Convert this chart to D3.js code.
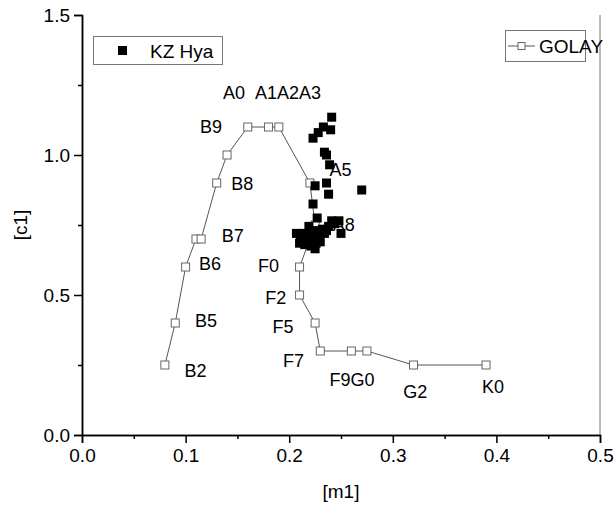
<!DOCTYPE html>
<html>
<head>
<meta charset="utf-8">
<script src="https://cdn.jsdelivr.net/npm/d3@7"></script>
<style>
    body { margin: 0; background: #fff; }
    text { font-family: "Liberation Sans", Arial, sans-serif; fill: #000; }
</style>
</head>
<body>
<svg width="614" height="514"></svg>
<script>
// KZ Hya observed points [m1, c1]
const kzM1 = [0.241, 0.233, 0.240, 0.228, 0.223, 0.234, 0.236, 0.239, 0.225, 0.236,
    0.238, 0.270, 0.223, 0.227, 0.241, 0.248, 0.250, 0.238, 0.232, 0.226,
    0.220, 0.213, 0.207, 0.211, 0.216, 0.222, 0.228, 0.234, 0.215, 0.221,
    0.226, 0.230, 0.219, 0.224, 0.218, 0.236, 0.244, 0.210, 0.225];
const kzC1 = [1.135, 1.100, 1.090, 1.080, 1.060, 1.010, 1.000, 0.965, 0.890, 0.900,
    0.860, 0.875, 0.825, 0.775, 0.765, 0.765, 0.720, 0.745, 0.735, 0.730,
    0.725, 0.720, 0.720, 0.700, 0.695, 0.700, 0.710, 0.720, 0.680, 0.675,
    0.685, 0.690, 0.745, 0.710, 0.710, 0.730, 0.755, 0.685, 0.665];

// Golay standard sequence
const golayM1 = [0.08, 0.09, 0.10, 0.11, 0.115, 0.13, 0.14, 0.16, 0.18, 0.19,
    0.22, 0.225, 0.21, 0.21, 0.225, 0.23, 0.26, 0.275, 0.32, 0.39];
const golayC1 = [0.25, 0.40, 0.60, 0.70, 0.70, 0.90, 1.00, 1.10, 1.10, 1.10,
    0.90, 0.75, 0.60, 0.50, 0.40, 0.30, 0.30, 0.30, 0.25, 0.25];

// spectral type labels (anchor in data units)
const typeNames = ["A0", "A1A2A3", "B9", "B8", "B7", "B6", "B5", "B2", "F0", "F2",
    "F5", "F7", "F9G0", "G2", "K0", "A5", "A8"];
const typeM1 = [0.136, 0.167, 0.114, 0.144, 0.135, 0.113, 0.109, 0.099, 0.170, 0.177,
    0.184, 0.194, 0.239, 0.310, 0.386, 0.239, 0.242];
const typeC1 = [1.20, 1.20, 1.079, 0.875, 0.69, 0.59, 0.386, 0.207, 0.582, 0.468,
    0.364, 0.243, 0.175, 0.132, 0.15, 0.925, 0.729];

const xTicks = [0, 0.1, 0.2, 0.3, 0.4, 0.5];
const yTicks = [0, 0.5, 1.0, 1.5];

var svg = d3.select("svg"),
    plotL = 82, plotR = 600, plotT = 15, plotB = 435;

var xScale = d3.scaleLinear().domain([0, 0.5]).range([plotL, plotR]),
    yScale = d3.scaleLinear().domain([0, 1.5]).range([plotB, plotT]);

// right frame line
svg.append("line")
    .attr("x1", plotR).attr("x2", plotR)
    .attr("y1", plotT).attr("y2", plotB)
    .attr("stroke", "#777").attr("stroke-width", 1);

// axes
svg.append("g")
    .attr("transform", "translate(0," + plotB + ")")
    .call(d3.axisBottom(xScale).tickValues(xTicks).tickFormat(d3.format(".1f"))
        .tickSize(8).tickPadding(6));
svg.append("g")
    .attr("transform", "translate(0," + plotB + ")")
    .call(d3.axisBottom(xScale).tickValues(d3.range(0.05, 0.5, 0.1)).tickFormat("")
        .tickSize(4).tickSizeOuter(0));

svg.append("g")
    .attr("transform", "translate(" + plotL + ",0)")
    .call(d3.axisLeft(yScale).tickValues(yTicks).tickFormat(d3.format(".1f"))
        .tickSize(8).tickPadding(4));
svg.append("g")
    .attr("transform", "translate(" + plotL + ",0)")
    .call(d3.axisLeft(yScale).tickValues([0.25, 0.75, 1.25]).tickFormat("")
        .tickSize(4).tickSizeOuter(0));

svg.selectAll(".domain").attr("stroke", "#000").attr("stroke-width", 1.5);
svg.selectAll(".tick line").attr("stroke", "#000").attr("stroke-width", 1.5);
svg.selectAll(".tick text")
    .attr("font-family", "Liberation Sans, Arial, sans-serif")
    .attr("font-size", "19px").attr("fill", "#000");

// axis titles
svg.append("text")
    .attr("x", (plotL + plotR) / 2).attr("y", 498)
    .attr("text-anchor", "middle").attr("font-size", "19px")
    .text("[m1]");
svg.append("text")
    .attr("transform", "translate(27," + (plotT + plotB) / 2 + ") rotate(-90)")
    .attr("text-anchor", "middle").attr("font-size", "19px")
    .text("[c1]");

// spectral type labels
svg.selectAll(".lab")
    .data(typeNames)
    .enter().append("text")
    .attr("class", "lab")
    .attr("x", function (d, i) { return xScale(typeM1[i]); })
    .attr("y", function (d, i) { return yScale(typeC1[i]); })
    .attr("font-size", "18px")
    .text(function (d) { return d; });

// golay line + open squares
var line = d3.line()
    .x(function (d, i) { return xScale(golayM1[i]); })
    .y(function (d, i) { return yScale(golayC1[i]); });
svg.append("path")
    .datum(golayM1)
    .attr("d", line)
    .attr("fill", "none").attr("stroke", "#555").attr("stroke-width", 1);

svg.selectAll(".golay")
    .data(golayM1)
    .enter().append("rect")
    .attr("class", "golay")
    .attr("x", function (d) { return xScale(d) - 4; })
    .attr("y", function (d, i) { return yScale(golayC1[i]) - 4; })
    .attr("width", 8).attr("height", 8)
    .attr("fill", "#fff").attr("stroke", "#666").attr("stroke-width", 1);

// KZ Hya filled squares
svg.selectAll(".kz")
    .data(kzM1)
    .enter().append("rect")
    .attr("class", "kz")
    .attr("x", function (d) { return xScale(d) - 4.5; })
    .attr("y", function (d, i) { return yScale(kzC1[i]) - 4.5; })
    .attr("width", 9).attr("height", 9)
    .attr("fill", "#000");

// legend: KZ Hya
var lg1 = svg.append("g");
lg1.append("rect")
    .attr("x", 93.5).attr("y", 36.5).attr("width", 129).attr("height", 28)
    .attr("fill", "#fff").attr("stroke", "#777");
lg1.append("rect")
    .attr("x", 118).attr("y", 46).attr("width", 9).attr("height", 9).attr("fill", "#000");
lg1.append("text")
    .attr("x", 150).attr("y", 58).attr("font-size", "19px").text("KZ Hya");

// legend: GOLAY
var lg2 = svg.append("g");
lg2.append("rect")
    .attr("x", 505.5).attr("y", 30.5).attr("width", 80).attr("height", 31)
    .attr("fill", "#fff").attr("stroke", "#777");
lg2.append("line")
    .attr("x1", 508).attr("x2", 535).attr("y1", 46).attr("y2", 46)
    .attr("stroke", "#555");
lg2.append("rect")
    .attr("x", 518).attr("y", 42.5).attr("width", 7).attr("height", 7)
    .attr("fill", "#fff").attr("stroke", "#666");
lg2.append("text")
    .attr("x", 539).attr("y", 53).attr("font-size", "19px").text("GOLAY");
</script>
</body>
</html>
